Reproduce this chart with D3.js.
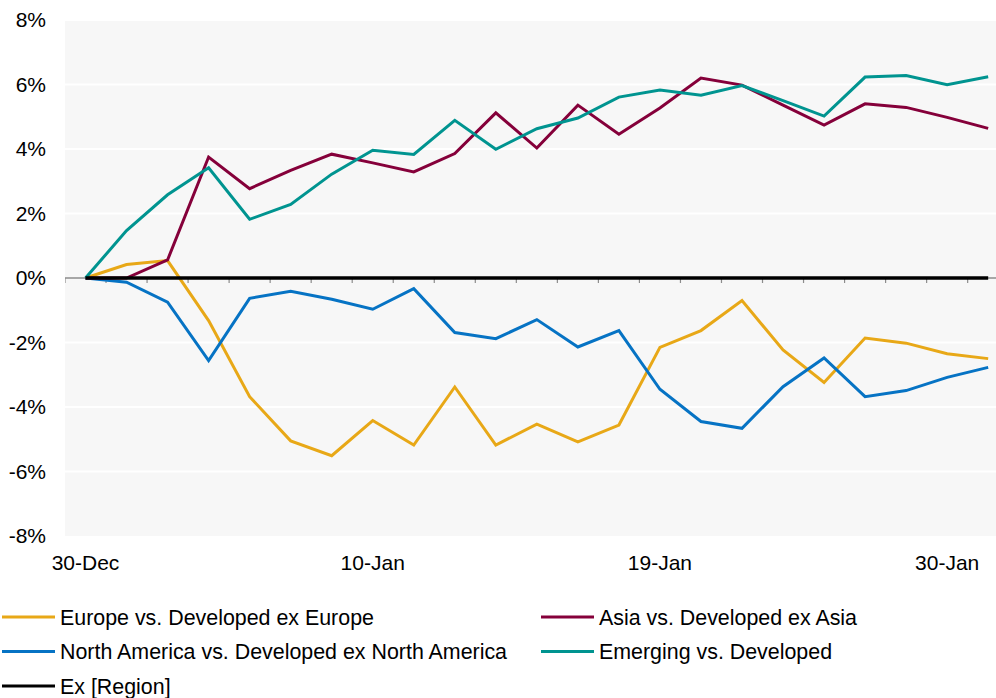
<!DOCTYPE html>
<html>
<head>
<meta charset="utf-8">
<script src="https://cdn.jsdelivr.net/npm/d3@7"></script>
<style>
  html, body { margin: 0; padding: 0; background: #ffffff; }
  svg { display: block; font-family: "Liberation Sans", Arial, sans-serif; }
</style>
</head>
<body>
<svg id="chart" width="996" height="698"></svg>
<script>
// Trading days shown on the category axis
const dates = ["30-Dec","31-Dec","2-Jan","3-Jan","6-Jan","7-Jan","8-Jan","10-Jan",
  "13-Jan","14-Jan","15-Jan","16-Jan","17-Jan","18-Jan","19-Jan","21-Jan","22-Jan",
  "23-Jan","24-Jan","27-Jan","28-Jan","30-Jan","31-Jan"];
const tickLabels = ["30-Dec","10-Jan","19-Jan","30-Jan"];
const yTicks = [-8, -6, -4, -2, 0, 2, 4, 6, 8];

// Relative performance, %
const europe = [0, 0.42, 0.54, -1.32, -3.68, -5.05, -5.51, -4.42, -5.18, -3.38, -5.18,
  -4.53, -5.08, -4.56, -2.15, -1.63, -0.70, -2.23, -3.24, -1.86, -2.02, -2.35, -2.50];
const asia = [0, 0.0, 0.56, 3.75, 2.77, 3.34, 3.84, 3.57, 3.29, 3.86, 5.12,
  4.03, 5.36, 4.46, 5.27, 6.20, 5.98, 5.36, 4.74, 5.40, 5.29, 4.98, 4.64];
const northAmerica = [0, -0.13, -0.75, -2.56, -0.63, -0.41, -0.66, -0.97, -0.33, -1.69, -1.88,
  -1.29, -2.14, -1.63, -3.45, -4.45, -4.66, -3.37, -2.48, -3.68, -3.49, -3.08, -2.77];
const emerging = [0, 1.47, 2.58, 3.42, 1.82, 2.28, 3.22, 3.96, 3.83, 4.89, 3.99,
  4.63, 4.96, 5.61, 5.83, 5.67, 5.97, 5.50, 5.02, 6.23, 6.28, 5.99, 6.24];
const exRegion = [0, 0, 0, 0, 0, 0, 0, 0, 0, 0, 0,
  0, 0, 0, 0, 0, 0, 0, 0, 0, 0, 0, 0];

const seriesNames = ["Europe vs. Developed ex Europe", "Asia vs. Developed ex Asia",
  "North America vs. Developed ex North America", "Emerging vs. Developed", "Ex [Region]"];
const seriesValues = [europe, asia, northAmerica, emerging, exRegion];
const seriesColors = ["#E8A817", "#85003A", "#0673C4", "#009490", "#000000"];

const svg = d3.select("#chart");
const W = 996;
const plotLeft = 65, plotTop = 20, plotBottom = 536;
const step = 41.03;
const fontSize = 21;
const legendFontSize = 21.4;

const x = d3.scaleBand().domain(dates).range([plotLeft, plotLeft + step * dates.length]).padding(0);
const y = d3.scaleLinear().domain([-8, 8]).range([plotBottom, plotTop]);

// Plot area, clipped at the page edge
svg.append("defs").append("clipPath").attr("id", "plotClip")
  .append("rect").attr("x", plotLeft).attr("y", 0).attr("width", W - plotLeft).attr("height", 698);

const plot = svg.append("g").attr("clip-path", "url(#plotClip)");
plot.append("rect")
  .attr("x", plotLeft).attr("y", plotTop)
  .attr("width", W - plotLeft).attr("height", plotBottom - plotTop)
  .attr("fill", "#f7f7f7");

// Horizontal gridlines
plot.append("g")
  .selectAll("line")
  .data(yTicks.filter(d => d !== 0 && d !== -8))
  .join("line")
  .attr("x1", plotLeft).attr("x2", W)
  .attr("y1", d => y(d)).attr("y2", d => y(d))
  .attr("stroke", "#ffffff").attr("stroke-width", 2);

// Y axis labels
const yAxis = d3.axisLeft(y).tickValues(yTicks).tickFormat(d => d + "%").tickSize(0).tickPadding(0);
const yg = svg.append("g").attr("transform", `translate(${plotLeft - 19},0)`).call(yAxis);
yg.select(".domain").remove();
yg.selectAll("text").attr("font-size", fontSize).attr("fill", "#000")
  .attr("font-family", "Liberation Sans, Arial, sans-serif");

// Category axis at zero, with ticks on category boundaries
const xg = plot.append("g").attr("transform", `translate(0,${y(0)})`);
xg.append("line").attr("x1", plotLeft).attr("x2", W).attr("y1", 0).attr("y2", 0)
  .attr("stroke", "#8c8c8c").attr("stroke-width", 1.5);
xg.selectAll("line.tick")
  .data(dates)
  .join("line").attr("class", "tick")
  .attr("x1", d => x(d)).attr("x2", d => x(d))
  .attr("y1", 0).attr("y2", 5)
  .attr("stroke", "#8c8c8c").attr("stroke-width", 1.2);

// Date labels below the plot
svg.append("g")
  .selectAll("text")
  .data(tickLabels)
  .join("text")
  .attr("x", d => x(d) + x.bandwidth() / 2)
  .attr("y", 570)
  .attr("text-anchor", "middle")
  .attr("font-size", fontSize)
  .attr("fill", "#000")
  .text(d => d);

// Series lines
const line = d3.line()
  .x((d, i) => x(dates[i]) + x.bandwidth() / 2)
  .y(d => y(d));

const drawOrder = [0, 2, 1, 3, 4];
plot.append("g")
  .selectAll("path")
  .data(drawOrder)
  .join("path")
  .attr("d", k => line(seriesValues[k]))
  .attr("fill", "none")
  .attr("stroke", k => seriesColors[k])
  .attr("stroke-width", k => k === 4 ? 3.5 : 3)
  .attr("stroke-linejoin", "miter");

// Legend: two columns, row-major
const legendCols = [2, 541];
const legendRows = [617, 651.5, 686];
const lg = svg.append("g")
  .selectAll("g")
  .data(seriesNames)
  .join("g")
  .attr("transform", (d, i) => `translate(${legendCols[i % 2]},${legendRows[Math.floor(i / 2)]})`);
lg.append("line")
  .attr("x1", 0).attr("x2", 53).attr("y1", 0).attr("y2", 0)
  .attr("stroke", (d, i) => seriesColors[i]).attr("stroke-width", 3);
lg.append("text")
  .attr("x", 58).attr("y", 0).attr("dy", "0.35em")
  .attr("font-size", legendFontSize).attr("fill", "#000")
  .text(d => d);
</script>
</body>
</html>
